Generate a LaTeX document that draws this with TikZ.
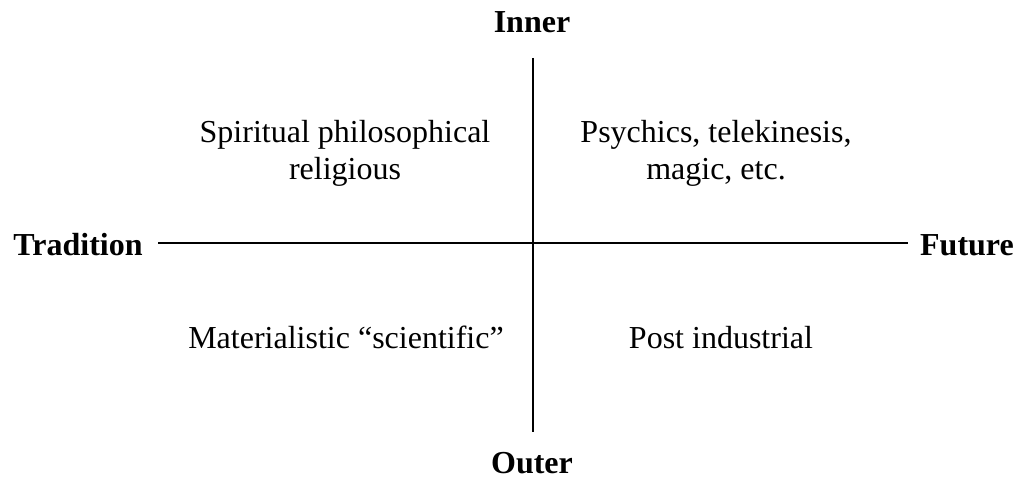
\documentclass[tikz,border=0pt]{standalone}
\usepackage{fontspec}
\setmainfont{Liberation Serif}
\begin{document}
\begin{tikzpicture}[x=1pt,y=1pt,
  axislabel/.style={font=\fontsize{32}{36}\selectfont\bfseries, inner sep=0pt, anchor=base},
  quad/.style={font=\fontsize{32}{37}\selectfont, inner sep=0pt, align=center, anchor=base},
  axis/.style={line width=1.2pt, black}]
\useasboundingbox (0,0) rectangle (1018,480);
\coordinate (top) at (533,422);
\coordinate (bot) at (533,48);
\coordinate (left) at (158,237);
\coordinate (right) at (908,237);
\draw[axis] (top) -- (bot);
\draw[axis] (left) -- (right);
\node[axislabel] (inner) at (532,447) {Inner};
\node[axislabel] (outer) at (532,7) {Outer};
\node[axislabel] (trad) at (78,224) {Tradition};
\node[axislabel] (fut) at (967,224) {Future};
\node[quad] (q1) at (345,300) {Spiritual philosophical\\religious};
\node[quad] (q2) at (716,300) {Psychics, telekinesis,\\magic, etc.};
\node[quad] (q3) at (346,132) {Materialistic “scientific”};
\node[quad] (q4) at (721,132) {Post industrial};
\end{tikzpicture}
\end{document}
